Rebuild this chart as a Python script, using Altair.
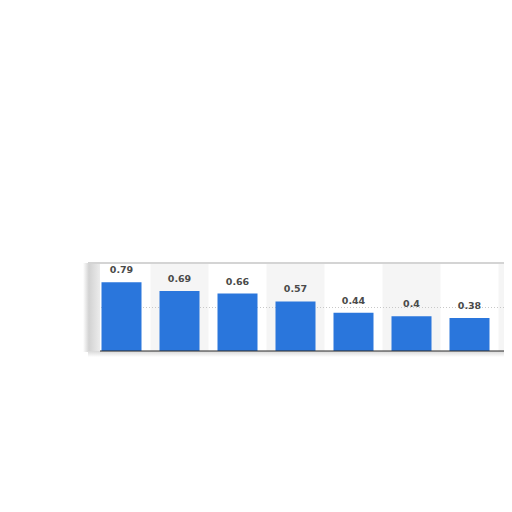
import altair as alt
import pandas as pd

# Data (8th bar is cut off at the right edge)
values = [0.79, 0.69, 0.66, 0.57, 0.44, 0.4, 0.38, 0.35]
labels = ["0.79", "0.69", "0.66", "0.57", "0.44", "0.4", "0.38", ""]
grid_values = [0.5]

df = pd.DataFrame({"idx": list(range(len(values))), "value": values, "label": labels})

W, H = 404, 87
STEP = 58.0
C0 = 21.5  # centre of first bar inside the plot area
xscale = alt.Scale(domain=[-C0 / STEP, (W - C0) / STEP], nice=False, zero=False)
yscale = alt.Scale(domain=[0, 1.0], nice=False)
HALF = 20 / STEP

dummy = alt.Data(values=[{"a": 1}])

left_shadow = alt.Chart(dummy).mark_rect(
    color={"gradient": "linear", "x1": 0, "x2": 1, "y1": 0, "y2": 0,
           "stops": [{"offset": 0, "color": "#ffffff"},
                     {"offset": 0.35, "color": "#d2d2d2"},
                     {"offset": 1, "color": "#ececec"}]}
).encode(x=alt.value(-17), x2=alt.value(0), y=alt.value(-1), y2=alt.value(H + 1))

bottom_shadow = alt.Chart(dummy).mark_rect(
    color={"gradient": "linear", "x1": 0, "x2": 0, "y1": 0, "y2": 1,
           "stops": [{"offset": 0, "color": "#d8d8d8"},
                     {"offset": 1, "color": "#ffffff"}]}
).encode(x=alt.value(-12), x2=alt.value(W), y=alt.value(H), y2=alt.value(H + 6))

top_line = alt.Chart(dummy).mark_rect(color="#d4d4d4").encode(
    x=alt.value(-12), x2=alt.value(W), y=alt.value(-2), y2=alt.value(0)
)

base = alt.Chart(df)

stripes = base.transform_filter("datum.idx % 2 == 1").transform_calculate(
    x0="datum.idx - 0.5", x1="datum.idx + 0.5"
).mark_rect(color="#f5f5f5", clip=True).encode(
    x=alt.X("x0:Q", scale=xscale, axis=None),
    x2="x1:Q",
    y=alt.value(0),
    y2=alt.value(H),
)

grid = alt.Chart(pd.DataFrame({"g": grid_values})).mark_rule(
    color="#c8c8c8", strokeDash=[1, 2], strokeWidth=1
).encode(y=alt.Y("g:Q", scale=yscale, axis=None))

bars = base.transform_calculate(
    x0=f"datum.idx - {HALF}", x1=f"datum.idx + {HALF}"
).mark_rect(color="#2a76dc", clip=True).encode(
    x=alt.X("x0:Q", scale=xscale, axis=None),
    x2="x1:Q",
    y=alt.Y("value:Q", scale=yscale, axis=None),
    y2=alt.datum(0),
)

text = base.transform_filter("datum.label != ''").mark_text(
    baseline="bottom", dy=-7, fontSize=9.5, fontWeight="bold",
    font="DejaVu Sans", color="#4a4a4a"
).encode(
    x=alt.X("idx:Q", scale=xscale, axis=None),
    y=alt.Y("value:Q", scale=yscale, axis=None),
    text="label:N",
)

baseline = alt.Chart(dummy).mark_rule(color="#2b2b2b", strokeWidth=1).encode(
    x=alt.value(0), x2=alt.value(W), y=alt.value(H)
)

chart = alt.layer(
    left_shadow, bottom_shadow, top_line, stripes, grid, bars, text, baseline
).properties(
    width=W, height=H, autosize="none",
    padding={"left": 92, "top": 256, "right": 0, "bottom": 12},
).configure_view(strokeWidth=0)

chart.save("out.html", embed_options={"renderer": "svg", "actions": False})
